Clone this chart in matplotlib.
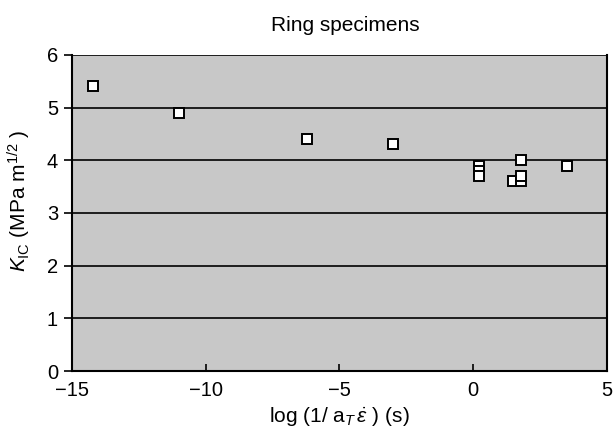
import matplotlib
matplotlib.use("Agg")
from matplotlib import pyplot as plt

plt.rcParams['font.family'] = ['Liberation Sans', 'DejaVu Sans']
plt.rcParams['mathtext.fontset'] = 'custom'
plt.rcParams['mathtext.rm'] = 'Liberation Sans'
plt.rcParams['mathtext.it'] = 'Liberation Sans:italic'

# log(1/(aT * strain rate)) in s, and fracture toughness K_IC in MPa m^1/2
log_time = [-14.2, -11.0, -6.2, -3.0, 0.2, 0.2, 0.2, 1.5, 1.8, 1.8, 1.8, 3.5]
k_ic = [5.4, 4.9, 4.4, 4.3, 3.9, 3.8, 3.7, 3.6, 3.6, 3.7, 4.0, 3.9]

fig = plt.figure(figsize=(6.15, 4.32), dpi=100)
ax = fig.add_axes([0.117, 0.141, 0.870, 0.732])
ax.set_facecolor('#c8c8c8')

for y in range(1, 7):
    ax.axhline(y, color='black', linewidth=1.2, zorder=1)

ax.plot(log_time, k_ic, linestyle='none', marker='s', markersize=6.5,
        markerfacecolor='white', markeredgecolor='black', markeredgewidth=1.4,
        zorder=3)

ax.set_xlim(-15, 5)
ax.set_ylim(0, 6)
ax.set_xticks([-15, -10, -5, 0, 5])
ax.set_xticklabels(['\u221215', '\u221210', '\u22125', '0', '5'])
ax.set_yticks(range(0, 7))
ax.tick_params(axis='y', direction='out', length=6, width=1.2, labelsize=14.5, pad=4)
ax.tick_params(axis='x', direction='in', length=5, width=1.2, labelsize=14.5, pad=7)

for side in ['left', 'bottom', 'right']:
    ax.spines[side].set_linewidth(1.5)
ax.spines['top'].set_visible(False)

ax.set_xlabel(r'log (1/ a$_{T}\,\dot{\varepsilon}$ ) (s)', fontsize=15, labelpad=4)
ax.set_ylabel(r'$K_{\mathrm{IC}}$ (MPa m$^{1/2}$ )', fontsize=15)
ax.yaxis.set_label_coords(-0.072, 0.54)
ax.set_title('Ring specimens', fontsize=15, pad=17, x=0.51)

plt.savefig('out.png', dpi=100)
plt.close()
